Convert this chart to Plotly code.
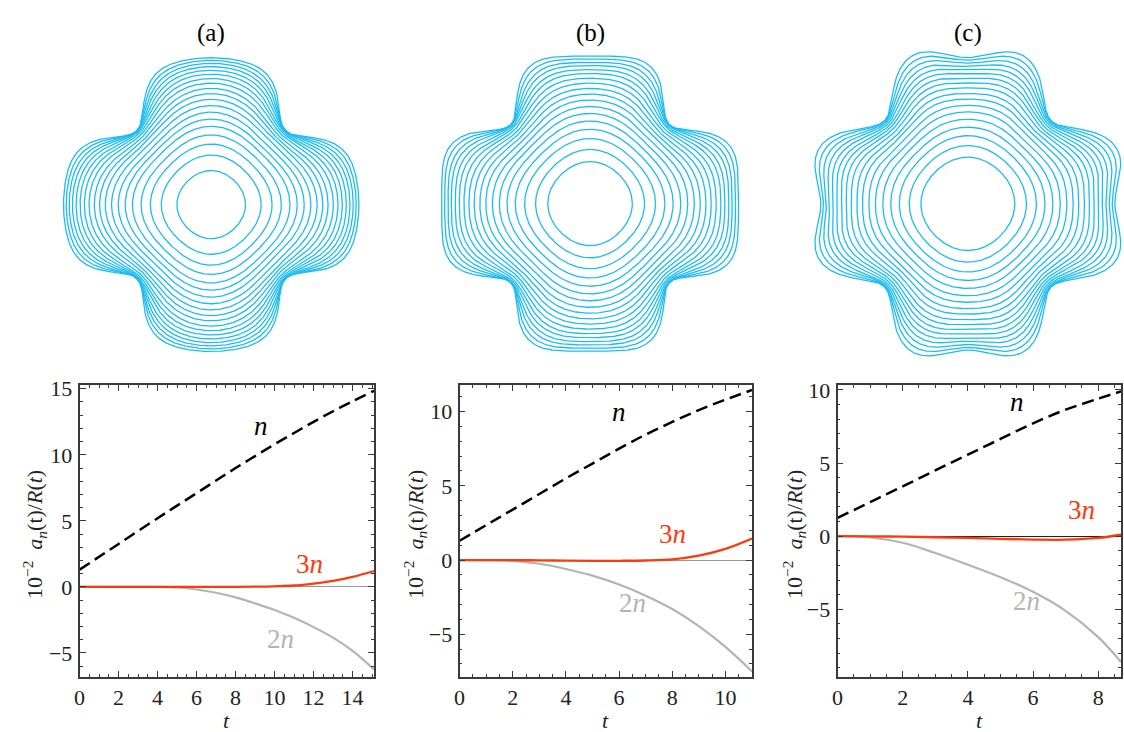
import numpy as np
import plotly.graph_objects as go

# ---------------- data ----------------
# Mode amplitudes, 10^-2 a(t)/R(t), panel (a)
t_a = [0, 2, 4, 5, 6, 7, 8, 9, 10, 11, 12, 13, 14, 15.1]
n_a = [1.3, 3.25, 5.2, 6.15, 7.1, 8.05, 9.0, 9.9, 10.8, 11.65, 12.5, 13.3, 14.05, 14.85]
n2_a = [0, 0, 0, -0.05, -0.2, -0.45, -0.8, -1.25, -1.75, -2.35, -3.05, -3.85, -4.85, -6.25]
n3_a = [0, 0, 0, 0, 0, 0, 0, 0.01, 0.04, 0.1, 0.25, 0.45, 0.75, 1.2]

# panel (b)
t_b = [0, 1, 2, 3, 4, 5, 6, 7, 8, 9, 10, 11]
n_b = [1.3, 2.35, 3.4, 4.45, 5.5, 6.5, 7.5, 8.45, 9.3, 10.1, 10.8, 11.45]
n2_b = [0, 0, -0.05, -0.25, -0.6, -1.05, -1.65, -2.4, -3.3, -4.45, -5.85, -7.5]
n3_b = [0, 0, 0, -0.02, -0.04, -0.05, -0.05, -0.03, 0.05, 0.3, 0.75, 1.45]

# panel (c)
t_c = [0, 1, 2, 3, 4, 5, 6, 7, 8, 8.7]
n_c = [1.25, 2.33, 3.41, 4.5, 5.58, 6.65, 7.72, 8.65, 9.4, 9.9]
n2_c = [0, -0.08, -0.45, -1.15, -1.95, -2.8, -3.8, -5.1, -6.9, -8.6]
n3_c = [0, -0.01, -0.03, -0.07, -0.12, -0.18, -0.23, -0.24, -0.12, 0.1]

# Interface radius along the finger axis for the successive snapshots
r_axis_a = [34.5, 50.2, 61.2, 70.5, 79.2, 86.5, 93.5, 100.2, 106.5, 112.2, 117.5,
            122.8, 127.5, 131.8, 135.8, 139.5, 142.8, 145.8, 148.5]
r_axis_b = [42.5, 54.8, 65.8, 75.2, 83.5, 91.2, 98.2, 104.8, 110.8, 116.5, 121.8,
            126.8, 131.5, 135.5, 139.5, 142.8, 146.2, 149.3]
r_axis_c = [47.2, 58.9, 68.9, 77.5, 85.5, 92.9, 99.5, 105.9, 111.5, 117.2, 122.2,
            126.9, 131.2, 135.2, 138.9, 142.2, 145.2, 147.8]

panel_titles = ["(a)", "(b)", "(c)"]
mode_n = 4
x_ticks = [[0, 2, 4, 6, 8, 10, 12, 14], [0, 2, 4, 6, 8, 10], [0, 2, 4, 6, 8]]
y_ticks = [[-5, 0, 5, 10, 15], [-5, 0, 5, 10], [-5, 0, 5, 10]]
x_ranges = [[0, 15.1], [0, 11.0], [0, 8.7]]
y_ranges = [[-6.8, 15.3], [-7.85, 11.8], [-9.6, 10.35]]
label_pos = [  # (t, value) of the n, 3n, 2n labels
    [(9.3, 12.2), (11.8, 1.7), (10.3, -3.96)],
    [(6.0, 10.0), (8.0, 1.77), (6.5, -2.9)],
    [(5.5, 9.2), (7.5, 1.76), (5.8, -4.44)],
]

panels = [
    (t_a, n_a, n2_a, n3_a, r_axis_a),
    (t_b, n_b, n2_b, n3_b, r_axis_b),
    (t_c, n_c, n2_c, n3_c, r_axis_c),
]

# ---------------- layout geometry (pixels) ----------------
W, H = 1124, 732
boxes = [(74, 370, 381, 676), (456, 750, 381, 676), (836, 1121, 381, 676)]
centers = [(206.3, 198.8), (587.2, 197.8), (967.0, 198.0)]
ylabel_x = [28, 411, 792]
HW, HH = 155, 172

FONT = "Liberation Serif, Times New Roman, serif"
FRAME = "#3a3a3a"
CYAN = "#1cbcf2"
RED = "#ff3a0a"
GRAY = "#b4b4b4"


def px(x):
    return x / W


def py(y):
    return 1 - y / H


fig = go.Figure()
layout = dict(
    width=W, height=H, margin=dict(l=0, r=0, t=0, b=0), autosize=False,
    paper_bgcolor="white", plot_bgcolor="white", showlegend=False,
    font=dict(family=FONT, color="#222222", size=22),
)
annotations = []

theta = np.linspace(0, 2 * np.pi, 721)

for i, (tt, an, a2n, a3n, raxis) in enumerate(panels):
    xa = f"x{i+1}"
    ya = f"y{i+1}"
    xt = f"x{i+4}"
    yt = f"y{i+4}"
    x0, x1, y0, y1 = boxes[i]

    # ---- bottom: amplitude curves ----
    fig.add_trace(go.Scatter(x=tt, y=a2n, mode="lines", line=dict(color=GRAY, width=2.2, shape="spline"),
                             xaxis=xa, yaxis=ya))
    fig.add_trace(go.Scatter(x=tt, y=a3n, mode="lines", line=dict(color=RED, width=2.3, shape="spline"),
                             xaxis=xa, yaxis=ya))
    fig.add_trace(go.Scatter(x=tt, y=an, mode="lines",
                             line=dict(color="black", width=2.5, dash="12px,6px", shape="spline"),
                             xaxis=xa, yaxis=ya))

    zl_color = "#999999" if i < 2 else "#222222"
    axcommon = dict(showgrid=False, showline=True, linecolor=FRAME, linewidth=1.8,
                    mirror="allticks", ticks="inside", ticklen=6, tickwidth=1, tickcolor=FRAME,
                    tickfont=dict(family=FONT, size=22, color="#222222"))
    layout[f"xaxis{i+1}"] = dict(
        domain=[px(x0), px(x1)], anchor=ya, range=x_ranges[i], tickvals=x_ticks[i],
        zeroline=False, ticklabelstandoff=0,
        minor=dict(ticks="inside", ticklen=3, dtick=0.5, tickcolor=FRAME, showgrid=False),
        **axcommon)
    layout[f"yaxis{i+1}"] = dict(
        domain=[py(y1), py(y0)], anchor=xa, range=y_ranges[i], tickvals=y_ticks[i],
        ticktext=[("\u2212" + str(abs(v))) if v < 0 else str(v) for v in y_ticks[i]],
        zeroline=True, zerolinecolor=zl_color, zerolinewidth=1, ticklabelstandoff=1,
        minor=dict(ticks="inside", ticklen=3, dtick=1, tickcolor=FRAME, showgrid=False),
        **axcommon)

    # mode labels
    (ln, l3, l2) = label_pos[i]
    annotations.append(dict(x=ln[0], y=ln[1], xref=xa, yref=ya, text="<i>n</i>", showarrow=False,
                            font=dict(family=FONT, size=27, color="black")))
    annotations.append(dict(x=l3[0], y=l3[1], xref=xa, yref=ya, text="3<i>n</i>", showarrow=False,
                            font=dict(family=FONT, size=27, color=RED)))
    annotations.append(dict(x=l2[0], y=l2[1], xref=xa, yref=ya, text="2<i>n</i>", showarrow=False,
                            font=dict(family=FONT, size=27, color=GRAY)))
    # axis titles
    annotations.append(dict(x=px((x0 + x1) / 2), y=py(720), xref="paper", yref="paper",
                            xanchor="center", yanchor="middle",
                            text="<i>t</i>", showarrow=False, font=dict(family=FONT, size=22)))
    annotations.append(dict(x=px(ylabel_x[i]), y=py(532), xref="paper", yref="paper", textangle=-90,
                            xanchor="center", yanchor="middle",
                            text="10<sup>\u22122</sup>  <i>a<sub>n</sub></i>(t)/<i>R</i>(<i>t</i>)",
                            showarrow=False, font=dict(family=FONT, size=22)))

    # ---- top: interface snapshots ----
    tmax = tt[-1]
    nsnap = len(raxis)
    tsnap = np.linspace(0, tmax, nsnap)
    xs, ys = [], []
    for k in range(nsnap):
        a1 = np.interp(tsnap[k], tt, an) / 100
        a2 = np.interp(tsnap[k], tt, a2n) / 100
        a3 = np.interp(tsnap[k], tt, a3n) / 100
        R = raxis[k] / (1 + a1 + a2 + a3)
        r = R * (1 + a1 * np.cos(mode_n * theta) + a2 * np.cos(2 * mode_n * theta)
                 + a3 * np.cos(3 * mode_n * theta))
        xs += list(r * np.cos(theta)) + [None]
        ys += list(r * np.sin(theta)) + [None]
    fig.add_trace(go.Scatter(x=xs, y=ys, mode="lines", line=dict(color=CYAN, width=1.3),
                             xaxis=xt, yaxis=yt, connectgaps=False))
    cx, cy = centers[i]
    layout[f"xaxis{i+4}"] = dict(domain=[px(cx - HW), px(cx + HW)], anchor=yt, range=[-HW, HW],
                                 visible=False)
    layout[f"yaxis{i+4}"] = dict(domain=[py(cy + HH), py(cy - HH)], anchor=xt, range=[-HH, HH],
                                 visible=False)
    annotations.append(dict(x=px(cx), y=py(25), xref="paper", yref="paper", text=panel_titles[i],
                            xanchor="center", yanchor="middle",
                            showarrow=False, font=dict(family=FONT, size=25, color="black")))

layout["annotations"] = annotations
fig.update_layout(**layout)
fig.write_html("out.html", config={"displayModeBar": False},
               post_script="document.body.style.margin='0px';")
